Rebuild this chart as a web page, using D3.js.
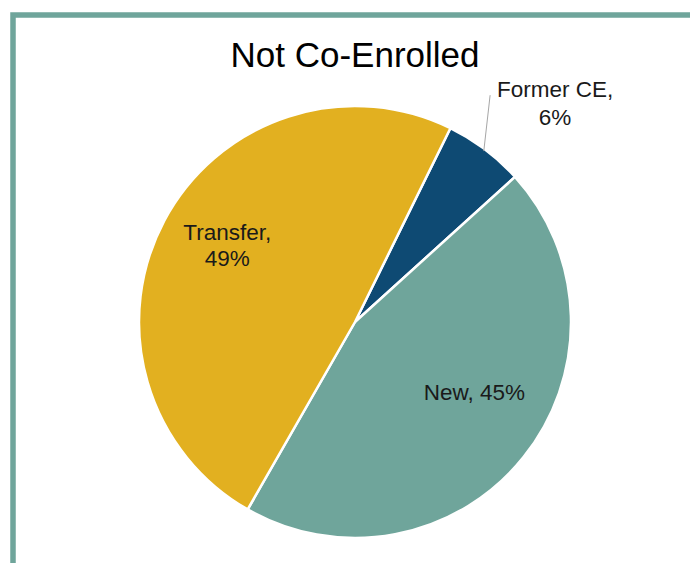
<!DOCTYPE html>
<html>
<head>
<meta charset="utf-8">
<script src="https://cdn.jsdelivr.net/npm/d3@7"></script>
<style>
  body { margin: 0; background: #fff; }
  svg { display: block; font-family: "Liberation Sans", Arial, sans-serif; }
</style>
</head>
<body>
<div id="chart"></div>
<script>
// chart data
const categories = ["Former CE", "New", "Transfer"];
const values = [6, 45, 49];
const colors = ["#0e4a73", "#6fa59b", "#e2b020"];

const width = 690;
const height = 563;
const cx = 355, cy = 322;
const radius = 216;
const startAngle = 26.2 * Math.PI / 180;

const svg = d3.select("#chart")
    .append("svg")
    .attr("width", width)
    .attr("height", height);

// frame (only top and left edges visible in the crop)
svg.append("rect")
    .attr("x", 13)
    .attr("y", 15)
    .attr("width", width + 20)
    .attr("height", height + 20)
    .attr("fill", "none")
    .attr("stroke", "#6fa59b")
    .attr("stroke-width", 5.5);

svg.append("text")
    .attr("x", 355)
    .attr("y", 67)
    .attr("text-anchor", "middle")
    .attr("font-size", 35)
    .attr("fill", "#000")
    .text("Not Co-Enrolled");

const pie = d3.pie()
    .sort(null)
    .value(d => d)
    .startAngle(startAngle)
    .endAngle(startAngle + 2 * Math.PI);

const arcs = pie(values);
const arc = d3.arc().innerRadius(0).outerRadius(radius);

const g = svg.append("g").attr("transform", `translate(${cx},${cy})`);

g.selectAll("path")
    .data(arcs)
    .enter()
    .append("path")
    .attr("d", arc)
    .attr("fill", (d, i) => colors[i])
    .attr("stroke", "#fff")
    .attr("stroke-width", 2.5)
    .attr("stroke-linejoin", "round");

// point on circle at angle a (clockwise from 12 o'clock)
function polar(a, r) {
    return [r * Math.sin(a), -r * Math.cos(a)];
}

arcs.forEach((d, i) => {
    const mid = (d.startAngle + d.endAngle) / 2;
    const label = categories[i] + ",";
    const pct = values[i] + "%";
    if (i === 0) {
        // small slice: label outside with leader line
        const p0 = polar(mid, radius - 2);
        const p1 = polar(startAngle + 0.08, radius + 48);
        g.append("line")
            .attr("x1", p0[0]).attr("y1", p0[1])
            .attr("x2", p1[0]).attr("y2", p1[1])
            .attr("stroke", "#a6a6a6")
            .attr("stroke-width", 1);
        const lx = p1[0] + 65;
        const t = g.append("text")
            .attr("text-anchor", "middle")
            .attr("font-size", 22.5)
            .attr("fill", "#1a1a1a");
        t.append("tspan").attr("x", lx).attr("y", p1[1] + 2).text(label);
        t.append("tspan").attr("x", lx).attr("y", p1[1] + 30).text(pct);
    } else if (i === 1) {
        const p = polar(mid - 0.1, radius * 0.66);
        g.append("text")
            .attr("x", p[0])
            .attr("y", p[1])
            .attr("text-anchor", "middle")
            .attr("font-size", 22.5)
            .attr("fill", "#1a1a1a")
            .text(categories[i] + ", " + pct);
    } else {
        const p = polar(mid, radius * 0.67);
        const t = g.append("text")
            .attr("text-anchor", "middle")
            .attr("font-size", 22.5)
            .attr("fill", "#1a1a1a");
        t.append("tspan").attr("x", p[0]).attr("y", p[1] - 14).text(label);
        t.append("tspan").attr("x", p[0]).attr("y", p[1] + 12).text(pct);
    }
});
</script>
</body>
</html>
